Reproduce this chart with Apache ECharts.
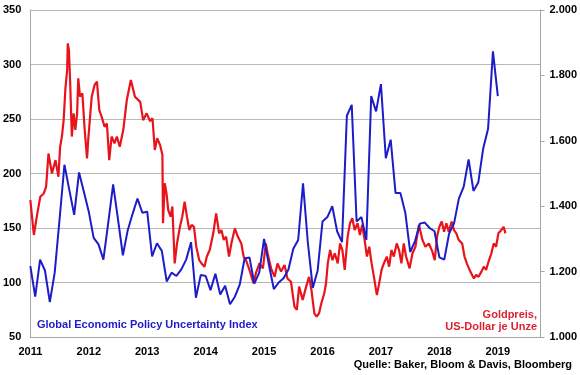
<!DOCTYPE html>
<html>
<head>
<meta charset="utf-8">
<script src="https://cdn.jsdelivr.net/npm/echarts@6/dist/echarts.min.js"></script>
<style>
  html, body { margin: 0; padding: 0; background: #fff; }
  #chart { width: 580px; height: 375px; }
</style>
</head>
<body>
<div id="chart"></div>
<script>
// Global Economic Policy Uncertainty Index, monthly from Jan 2011 to Jan 2019
const epuStart = 2011
const epuValues = [
  115, 87, 121, 111, 82, 109, 158, 208, 185, 162,
  201, 183, 165, 141, 135, 121, 155, 190, 158, 125,
  148, 163, 177, 164, 165, 124, 136, 129, 101, 109,
  106, 112, 121, 137, 86, 107, 106, 93, 108, 89,
  97, 80, 87, 98, 122, 123, 99, 109, 140, 116,
  94, 100, 104, 112, 131, 139, 191, 136, 95, 111,
  156, 160, 170, 147, 137, 253, 263, 156, 160, 139,
  271, 257, 282, 214, 231, 182, 182, 164, 128, 138,
  154, 155, 150, 147, 123, 121, 145, 154, 177, 188,
  213, 184, 192, 223, 241, 312, 271,
]

// Gold price, USD per ounce (time as decimal year)
const goldTime = [
  2011.00, 2011.02, 2011.06, 2011.11, 2011.17, 2011.23, 2011.27, 2011.31, 2011.37, 2011.43,
  2011.48, 2011.51, 2011.54, 2011.57, 2011.60, 2011.63, 2011.64, 2011.66, 2011.68, 2011.71,
  2011.74, 2011.77, 2011.80, 2011.82, 2011.85, 2011.89, 2011.93, 2011.97, 2011.99, 2012.05,
  2012.10, 2012.14, 2012.18, 2012.22, 2012.27, 2012.31, 2012.35, 2012.39, 2012.44, 2012.48,
  2012.53, 2012.59, 2012.65, 2012.72, 2012.79, 2012.88, 2012.93, 2012.99, 2013.05, 2013.09,
  2013.13, 2013.17, 2013.22, 2013.26, 2013.27, 2013.30, 2013.33, 2013.36, 2013.40, 2013.43,
  2013.47, 2013.51, 2013.56, 2013.60, 2013.64, 2013.68, 2013.72, 2013.76, 2013.80, 2013.84,
  2013.89, 2013.93, 2013.98, 2014.02, 2014.07, 2014.13, 2014.18, 2014.23, 2014.27, 2014.31,
  2014.35, 2014.40, 2014.44, 2014.50, 2014.55, 2014.61, 2014.65, 2014.69, 2014.75, 2014.82,
  2014.86, 2014.92, 2014.98, 2015.03, 2015.06, 2015.12, 2015.18, 2015.23, 2015.29, 2015.35,
  2015.40, 2015.46, 2015.52, 2015.56, 2015.60, 2015.66, 2015.72, 2015.77, 2015.81, 2015.86,
  2015.90, 2015.94, 2015.98, 2016.03, 2016.06, 2016.09, 2016.13, 2016.17, 2016.21, 2016.26,
  2016.30, 2016.34, 2016.38, 2016.43, 2016.47, 2016.51, 2016.55, 2016.60, 2016.64, 2016.68,
  2016.72, 2016.76, 2016.80, 2016.84, 2016.88, 2016.93, 2016.97, 2017.01, 2017.05, 2017.10,
  2017.14, 2017.18, 2017.22, 2017.27, 2017.31, 2017.35, 2017.39, 2017.43, 2017.49, 2017.54,
  2017.59, 2017.65, 2017.71, 2017.76, 2017.82, 2017.88, 2017.92, 2017.96, 2018.00, 2018.04,
  2018.08, 2018.12, 2018.16, 2018.21, 2018.25, 2018.29, 2018.33, 2018.39, 2018.43, 2018.47,
  2018.53, 2018.59, 2018.63, 2018.67, 2018.72, 2018.76, 2018.80, 2018.84, 2018.89, 2018.93,
  2018.97, 2019.01, 2019.06, 2019.10, 2019.13,
]
const goldPrice = [
  1419, 1383, 1312, 1368, 1429, 1439, 1460, 1561, 1500, 1541,
  1490, 1582, 1613, 1663, 1760, 1817, 1898, 1878, 1786, 1613,
  1684, 1633, 1684, 1791, 1735, 1745, 1633, 1546, 1602, 1735,
  1771, 1781, 1694, 1674, 1643, 1653, 1541, 1613, 1592, 1613,
  1582, 1633, 1724, 1786, 1735, 1719, 1663, 1684, 1660, 1669,
  1572, 1608, 1587, 1557, 1348, 1470, 1439, 1388, 1368, 1399,
  1225, 1286, 1337, 1368, 1414, 1368, 1327, 1343, 1337, 1276,
  1235, 1225, 1215, 1246, 1266, 1317, 1378, 1317, 1327, 1297,
  1307, 1246, 1286, 1332, 1307, 1286, 1246, 1235, 1205, 1164,
  1195, 1225, 1210, 1286, 1256, 1210, 1184, 1225, 1200, 1220,
  1179, 1169, 1093, 1083, 1154, 1113, 1154, 1184, 1144, 1072,
  1062, 1072, 1103, 1134, 1164, 1225, 1266, 1235, 1256, 1225,
  1286, 1266, 1205, 1307, 1348, 1363, 1327, 1348, 1312, 1343,
  1297, 1246, 1276, 1225, 1184, 1128, 1164, 1205, 1225, 1246,
  1215, 1266, 1246, 1286, 1266, 1225, 1286, 1246, 1210, 1256,
  1276, 1343, 1297, 1276, 1286, 1261, 1235, 1307, 1337, 1353,
  1322, 1348, 1322, 1353, 1327, 1317, 1297, 1286, 1246, 1225,
  1200, 1179, 1190, 1184, 1200, 1215, 1205, 1230, 1256, 1286,
  1276, 1317, 1327, 1337, 1317,
]

const yearTicks = ['2011', '2012', '2013', '2014', '2015', '2016', '2017', '2018', '2019']

const BLUE = '#1c1cc8'
const RED = '#e8141c'
const FONT = '"Liberation Sans", Arial, sans-serif'

const chart = echarts.init(document.getElementById('chart'), null, { renderer: 'canvas' })

const labelStyle = { color: '#000', fontWeight: 'bold', fontSize: 11, fontFamily: FONT }

chart.setOption({
  animation: false,
  grid: { left: 30, right: 38, top: 10, bottom: 38 },
  xAxis: {
    type: 'value',
    min: 2011,
    max: 2019.73,
    interval: 1,
    axisLine: { show: true, lineStyle: { color: '#a6a6a6', width: 1 } },
    axisTick: { show: false },
    splitLine: { show: false },
    axisLabel: {
      ...labelStyle,
      margin: 9,
      showMaxLabel: false,
      formatter: (v) => (yearTicks.includes(String(v)) ? String(v) : ''),
    },
  },
  yAxis: [
    {
      type: 'value',
      min: 50,
      max: 350,
      interval: 50,
      axisLine: { show: true, lineStyle: { color: '#a6a6a6' } },
      axisTick: { show: false },
      splitLine: { show: true, lineStyle: { color: '#b8b8b8', width: 1 } },
      axisLabel: { ...labelStyle, margin: 9 },
    },
    {
      type: 'value',
      min: 1000,
      max: 2000,
      interval: 200,
      position: 'right',
      axisLine: { show: true, lineStyle: { color: '#a6a6a6' } },
      axisTick: { show: true, length: 4, lineStyle: { color: '#a6a6a6' } },
      splitLine: { show: false },
      axisLabel: {
        ...labelStyle,
        margin: 9,
        formatter: (v) => String(v).replace(/\B(?=(\d{3})+(?!\d))/g, '.'),
      },
    },
  ],
  series: [
    {
      name: 'Gold',
      type: 'line',
      yAxisIndex: 1,
      symbol: 'none',
      lineStyle: { width: 2.2, color: RED },
      data: goldTime.map((t, i) => [t, goldPrice[i]]),
      z: 2,
    },
    {
      name: 'EPU',
      type: 'line',
      yAxisIndex: 0,
      symbol: 'none',
      lineStyle: { width: 2, color: BLUE },
      data: epuValues.map((v, i) => [epuStart + i / 12, v]),
      z: 3,
    },
  ],
  graphic: [
    {
      type: 'text',
      left: 37,
      top: 319,
      style: { text: 'Global Economic Policy Uncertainty Index', fill: BLUE, font: 'bold 11px ' + FONT },
    },
    {
      type: 'text',
      right: 43,
      top: 309,
      style: { text: 'Goldpreis,', fill: '#dd2230', font: 'bold 11px ' + FONT, align: 'right' },
    },
    {
      type: 'text',
      right: 43,
      top: 321,
      style: { text: 'US-Dollar je Unze', fill: '#dd2230', font: 'bold 11px ' + FONT, align: 'right' },
    },
    {
      type: 'text',
      right: 8,
      top: 359,
      style: { text: 'Quelle: Baker, Bloom & Davis, Bloomberg', fill: '#000', font: 'bold 11px ' + FONT, align: 'right' },
    },
  ],
})
</script>
</body>
</html>
